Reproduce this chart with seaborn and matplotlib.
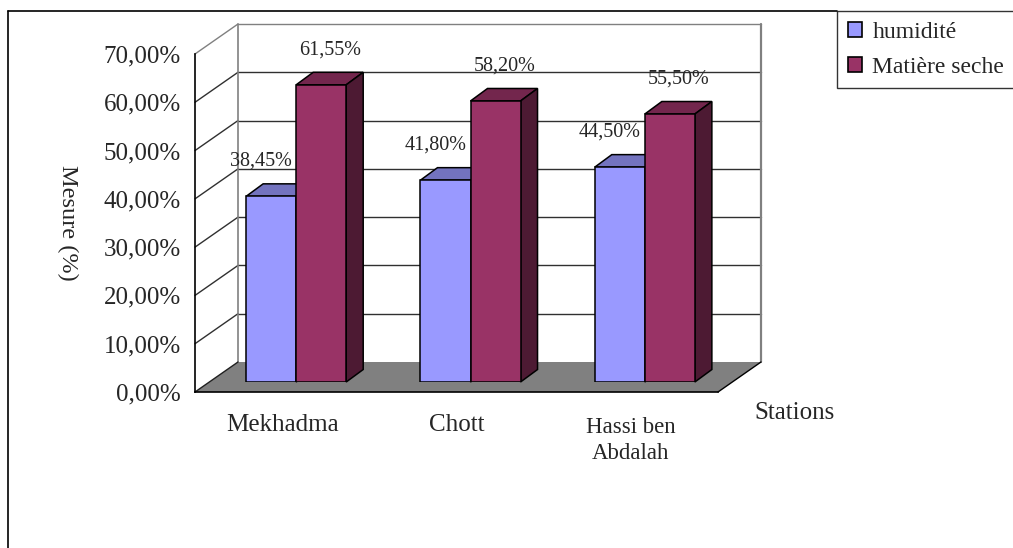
import numpy as np
import pandas as pd
import matplotlib
matplotlib.use("Agg")
import matplotlib.pyplot as plt
import seaborn as sns
from matplotlib.patches import Polygon, Patch
from matplotlib.lines import Line2D
from matplotlib.transforms import ScaledTranslation

# ---- data ----
stations = ["Mekhadma", "Chott", "Hassi ben\nAbdalah"]
series = ["humidité", "Matière seche"]
humidite = [38.45, 41.80, 44.50]
matiere_seche = [61.55, 58.20, 55.50]
y_ticks = [0, 10, 20, 30, 40, 50, 60, 70]

# ---- colours ----
front_colors = {"humidité": "#9999FF", "Matière seche": "#993366"}
top_colors = {"humidité": "#7373BF", "Matière seche": "#73264D"}
side_colors = {"humidité": "#4D4D80", "Matière seche": "#4D1A33"}


def pct(v):
    return f"{v:.2f}".replace(".", ",") + "%"


df = pd.DataFrame({
    "station": stations * 2,
    "serie": [series[0]] * 3 + [series[1]] * 3,
    "valeur": humidite + matiere_seche,
})

sns.set_style("white")
plt.rcParams["font.family"] = ["Liberation Serif", "DejaVu Serif"]

W, H = 1013, 548
fig = plt.figure(figsize=(W / 100, H / 100), dpi=100)

# front plane of the pseudo-3D box (pixels)
L, R, B, T = 195, 718, 392, 54
FLOOR_DX, FLOOR_DY = 43, 30       # depth of the box
SHIFT_X, SHIFT_Y = 14, 10         # bars sit inside the box depth
BAR_DX, BAR_DY = 17, 12.5         # depth of each bar

ymax = y_ticks[-1]
sx = (R - L) / len(stations)      # px per category unit
sy = (B - T) / ymax               # px per percent


def axes_rect(left, bottom_px):
    return [left / W, (H - bottom_px) / H, (R - L) / W, (B - T) / H]


ax = fig.add_axes(axes_rect(L, B))
ax.set_xlim(-0.5, len(stations) - 0.5)
ax.set_ylim(0, ymax)
ax.patch.set_visible(False)

fdx, fdy = FLOOR_DX / sx, FLOOR_DY / sy
x0, x1 = -0.5, len(stations) - 0.5

# back wall
ax.add_patch(Polygon([(x0 + fdx, fdy), (x1 + fdx, fdy), (x1 + fdx, ymax + fdy),
                      (x0 + fdx, ymax + fdy)], closed=True, facecolor="white",
                     edgecolor="none", clip_on=False, zorder=0))
for t in y_ticks[1:]:
    col = "#808080" if t == ymax else "#303030"
    ax.plot([x0 + fdx, x1 + fdx], [t + fdy, t + fdy], color=col, lw=1,
            clip_on=False, zorder=1)
    ax.plot([x0, x0 + fdx], [t, t + fdy], color=col, lw=1, clip_on=False, zorder=1)
ax.plot([x0 + fdx, x0 + fdx], [fdy, ymax + fdy], color="#808080", lw=1.2,
        clip_on=False, zorder=1)
ax.plot([x1 + fdx, x1 + fdx], [fdy, ymax + fdy], color="#808080", lw=1.6,
        clip_on=False, zorder=1)

# floor
ax.add_patch(Polygon([(x0, 0), (x1, 0), (x1 + fdx, fdy), (x0 + fdx, fdy)],
                     closed=True, facecolor="#808080", edgecolor="none",
                     clip_on=False, zorder=2))
ax.plot([x0, x0 + fdx], [0, fdy], color="#202020", lw=1, clip_on=False, zorder=3)
ax.plot([x1, x1 + fdx], [0, fdy], color="black", lw=1, clip_on=False, zorder=3)

# axes styling
for s in ["top", "right"]:
    ax.spines[s].set_visible(False)
for s in ["left", "bottom"]:
    ax.spines[s].set_color("black")
    ax.spines[s].set_linewidth(1.2)
    ax.spines[s].set_zorder(4)

ax.set_yticks(y_ticks)
ax.set_yticklabels([pct(t) for t in y_ticks])
ax.tick_params(axis="y", direction="out", length=4, width=1, color="black",
               labelsize=18, pad=6)

ax.set_xticks(np.arange(-0.5, len(stations), 1.0))
ax.set_xticklabels([])
ax.set_xticks(np.arange(len(stations)), minor=True)
ax.set_xticklabels(stations, minor=True)
ax.tick_params(axis="x", which="major", direction="out", length=6, width=1,
               color="black")
ax.tick_params(axis="x", which="minor", length=0, labelsize=18, pad=16)
minor_labels = ax.get_xticklabels(minor=True)
minor_labels[2].set_fontsize(16.5)
minor_labels[2].set_linespacing(1.32)
minor_labels[2].set_transform(minor_labels[2].get_transform()
                              + ScaledTranslation(0, -3 / 100, fig.dpi_scale_trans))

ylab = ax.set_ylabel("Mesure (%)", fontsize=17.5, rotation=-90, labelpad=0)
ylab.set_ha("center")
ylab.set_va("center")
ax.yaxis.set_label_coords((68 - L) / (R - L), (B - 223) / (B - T))
ax.text((795 - L) / (R - L), (B - 413) / (B - T), "Stations",
        transform=ax.transAxes, ha="center", va="center", fontsize=18)

# ---- bars ----
axb = fig.add_axes(axes_rect(L + SHIFT_X, B - SHIFT_Y))
axb.patch.set_visible(False)
sns.barplot(data=df, x="station", y="valeur", hue="serie", hue_order=series,
            order=stations, palette=front_colors, width=0.574, saturation=1,
            edgecolor="black", linewidth=1.1, legend=False, ax=axb)
axb.set_xlim(-0.5, len(stations) - 0.5)
axb.set_ylim(0, ymax)
axb.set_axis_off()

bdx, bdy = BAR_DX / sx, BAR_DY / sy
label_dx = {"humidité": -10, "Matière seche": 9}
for k, (serie, container) in enumerate(zip(series, axb.containers)):
    for bar in container:
        bx, bw, bh = bar.get_x(), bar.get_width(), bar.get_height()
        base_z = 2 * k + 1
        bar.set_zorder(base_z + 1)
        axb.add_patch(Polygon([(bx, bh), (bx + bw, bh), (bx + bw + bdx, bh + bdy),
                               (bx + bdx, bh + bdy)], closed=True,
                              facecolor=top_colors[serie], edgecolor="black",
                              lw=1.1, zorder=base_z, clip_on=False))
        axb.add_patch(Polygon([(bx + bw, 0), (bx + bw + bdx, bdy),
                               (bx + bw + bdx, bh + bdy), (bx + bw, bh)],
                              closed=True, facecolor=side_colors[serie],
                              edgecolor="black", lw=1.1, zorder=base_z,
                              clip_on=False))
        axb.annotate(pct(bh), (bx + bw / 2, bh), xytext=(label_dx[serie], 35),
                     textcoords="offset pixels", ha="center", va="center",
                     fontsize=14.5, zorder=10, annotation_clip=False)

# ---- legend ----
handles = [Patch(facecolor=front_colors[s], edgecolor="black", lw=1.2) for s in series]
leg = fig.legend(handles, series, loc="upper left",
                 bbox_to_anchor=(837 / W, 1 - 11 / H), fontsize=17,
                 frameon=True, fancybox=False, handlelength=0.6,
                 handleheight=0.6, handletextpad=0.45, borderpad=0.45,
                 labelspacing=0.6, borderaxespad=0)
leg.get_frame().set_edgecolor("black")
leg.get_frame().set_linewidth(1)

# outer chart frame
fig.add_artist(Line2D([8 / W, 8 / W], [0, 1 - 11 / H], color="black", lw=1.2))
fig.add_artist(Line2D([8 / W, 837 / W], [1 - 11 / H, 1 - 11 / H], color="black", lw=1.2))

fig.savefig("out.png", dpi=100)
